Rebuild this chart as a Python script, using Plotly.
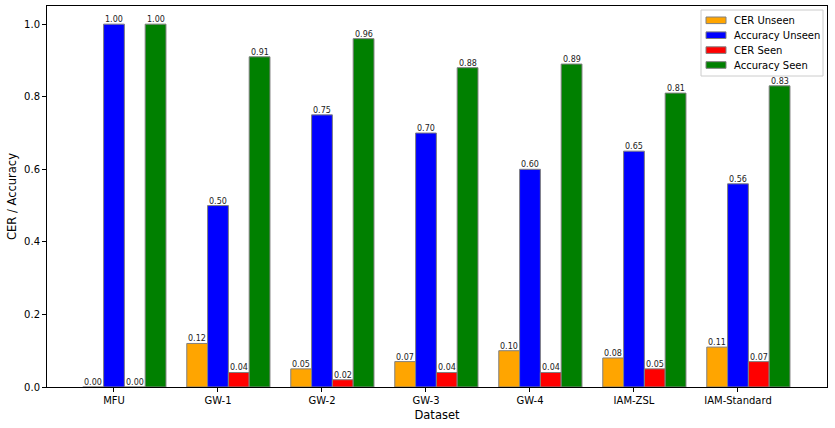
import plotly.graph_objects as go

datasets = ["MFU", "GW-1", "GW-2", "GW-3", "GW-4", "IAM-ZSL", "IAM-Standard"]
cer_unseen = [0.00, 0.12, 0.05, 0.07, 0.10, 0.08, 0.11]
acc_unseen = [1.00, 0.50, 0.75, 0.70, 0.60, 0.65, 0.56]
cer_seen = [0.00, 0.04, 0.02, 0.04, 0.04, 0.05, 0.07]
acc_seen = [1.00, 0.91, 0.96, 0.88, 0.89, 0.81, 0.83]

series = [
    ("CER Unseen", cer_unseen, "orange", -1),
    ("Accuracy Unseen", acc_unseen, "blue", 0),
    ("CER Seen", cer_seen, "red", 1),
    ("Accuracy Seen", acc_seen, "green", 2),
]
w = 0.2
idx = list(range(len(datasets)))

W, H = 835, 428
ML, MR, MT, MB = 47, 8, 6, 41
PW, PH = W - ML - MR, H - MT - MB


def px(xp):
    return (xp - ML) / PW


def py(yp):
    return 1 - (yp - MT) / PH


fig = go.Figure()
annotations = []
for name, vals, color, k in series:
    xs = [i + k * w for i in idx]
    fig.add_trace(go.Bar(
        x=xs, y=vals, width=w, name=name,
        marker=dict(color=color, line=dict(color="grey", width=1)),
        showlegend=False, hoverinfo="x+y+name",
    ))
    for xv, v in zip(xs, vals):
        annotations.append(dict(x=xv, y=v, xref="x", yref="y", text=f"{v:.2f}",
                                showarrow=False, yanchor="bottom", yshift=-2,
                                font=dict(size=8, color="#222222")))

# legend box drawn inside the axes (upper right)
shapes = [dict(type="rect", xref="paper", yref="paper",
               x0=px(701), x1=px(823), y0=py(76), y1=py(10),
               fillcolor="rgba(255,255,255,0.85)",
               line=dict(color="#cccccc", width=1), layer="above")]
for j, (name, vals, color, k) in enumerate(series):
    yc = 20.3 + j * 14.9
    shapes.append(dict(type="rect", xref="paper", yref="paper",
                       x0=px(706), x1=px(726), y0=py(yc + 3.3), y1=py(yc - 3.3),
                       fillcolor=color, line=dict(color="grey", width=1),
                       layer="above"))
    annotations.append(dict(xref="paper", yref="paper", x=px(732), y=py(yc),
                            xanchor="left", yanchor="middle", text=name,
                            showarrow=False, font=dict(size=10, color="black")))

fig.update_layout(
    width=W, height=H, barmode="overlay",
    margin=dict(l=ML, r=MR, t=MT, b=MB),
    paper_bgcolor="white", plot_bgcolor="white",
    font=dict(family="DejaVu Sans", size=10, color="black"),
    showlegend=False, shapes=shapes, annotations=annotations,
)
fig.update_xaxes(
    range=[-0.644, 6.856], tickvals=idx, ticktext=datasets,
    showline=True, mirror=True, linecolor="black", linewidth=1,
    ticks="outside", ticklen=4, tickcolor="black", showgrid=False, zeroline=False,
    title=dict(text="Dataset", font=dict(size=11.5), standoff=5),
)
fig.update_yaxes(
    range=[0, 1.05], tickvals=[0, 0.2, 0.4, 0.6, 0.8, 1.0], tickformat=".1f",
    showline=True, mirror=True, linecolor="black", linewidth=1,
    ticks="outside", ticklen=4, tickcolor="black", showgrid=False, zeroline=False,
    title=dict(text="CER / Accuracy", font=dict(size=11.5), standoff=5),
)
fig.write_html("out.html", config={"displayModeBar": False},
               post_script="document.body.style.margin='0';")
